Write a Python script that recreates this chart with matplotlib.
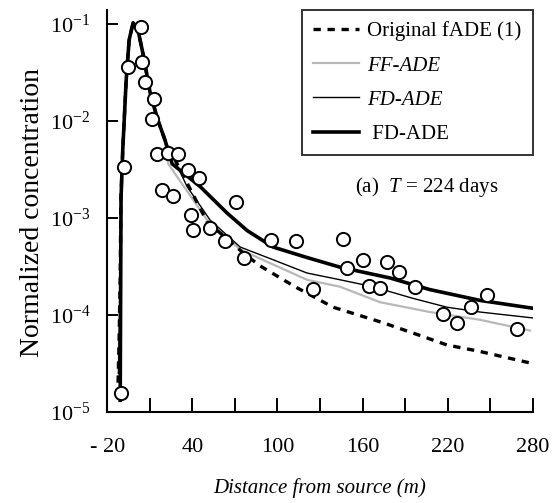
import matplotlib
matplotlib.use("Agg")
import matplotlib.pyplot as plt
from matplotlib.ticker import NullLocator

plt.rcParams['font.family'] = ['Liberation Serif', 'DejaVu Serif']
plt.rcParams['mathtext.fontset'] = 'custom'
plt.rcParams['mathtext.rm'] = 'Liberation Serif'
plt.rcParams['mathtext.it'] = 'Liberation Serif:italic'

# ---- data ----
obs_x = [-10.1, -8.0, -5.2, 3.9, 4.6, 6.8, 13.1, 11.7, 15.2, 23.0, 30.0, 37.0, 44.8,
         18.7, 26.5, 39.2, 40.6, 52.5, 63.1, 70.8, 76.5, 95.5, 113.1, 125.1, 146.2,
         149.0, 160.3, 164.5, 172.3, 177.2, 185.6, 196.9, 216.6, 226.5, 236.3, 247.6, 268.7]
obs_c = [1.58e-5, 3.3e-3, 0.0355, 0.092, 0.040, 0.025, 0.0167, 0.0104, 4.5e-3, 4.6e-3,
         4.5e-3, 3.1e-3, 2.6e-3, 1.93e-3, 1.67e-3, 1.07e-3, 7.5e-4, 7.85e-4, 5.8e-4,
         1.46e-3, 3.85e-4, 5.9e-4, 5.8e-4, 1.85e-4, 6.05e-4, 3.04e-4, 3.67e-4, 1.99e-4,
         1.89e-4, 3.5e-4, 2.77e-4, 1.94e-4, 1.02e-4, 8.3e-5, 1.2e-4, 1.6e-4, 7.2e-5]

orig_x = [-12.3, -11.5, -10.8, -10.3, -9.0, -6.6, -4.5, -1.7, 1.8, 5.4, 10.3, 15.2, 20.8,
          50.4, 77.2, 87.7, 112.4, 139.2, 174.4, 195.5, 219.4, 242.7, 277.9]
orig_c = [2.0e-5, 6.3e-5, 2.5e-4, 1.6e-3, 5.0e-3, 0.026, 0.068, 0.102, 0.085, 0.048,
          0.0195, 0.0107, 6.3e-3, 9.1e-4, 4.2e-4, 3.2e-4, 1.95e-4, 1.2e-4, 8.3e-5,
          6.5e-5, 4.9e-5, 4.2e-5, 3.2e-5]

ff_x = [-12.0, -11.5, -10.8, -10.3, -9.0, -6.6, -4.5, -1.7, 1.8, 5.4, 10.3, 15.2, 20.8,
        23.0, 50.4, 73.7, 120.8, 144.1, 172.3, 207.5, 242.7, 277.9]
ff_c = [2.5e-5, 6.3e-5, 2.5e-4, 1.6e-3, 5.0e-3, 0.026, 0.068, 0.102, 0.085, 0.048,
        0.0195, 0.0107, 6.3e-3, 3.6e-3, 9.5e-4, 4.7e-4, 2.3e-4, 1.95e-4, 1.35e-4,
        1.07e-4, 8.9e-5, 6.9e-5]

fd_x = [-12.0, -11.5, -10.8, -10.3, -9.0, -6.6, -4.5, -1.7, 1.8, 5.4, 10.3, 15.2, 20.8,
        36.3, 52.5, 73.7, 96.9, 120.8, 144.1, 167.3, 195.5, 219.4, 242.7, 280.0]
fd_c = [2.5e-5, 6.3e-5, 2.5e-4, 1.6e-3, 5.0e-3, 0.026, 0.068, 0.102, 0.085, 0.048,
        0.0195, 0.0107, 6.3e-3, 2.1e-3, 9.5e-4, 5.0e-4, 3.7e-4, 2.7e-4, 2.3e-4,
        1.95e-4, 1.48e-4, 1.2e-4, 1.07e-4, 9.3e-5]

fdb_x = [-10.8, -10.5, -10.2, -9.0, -6.6, -4.5, -1.7, 1.8, 5.4, 10.3, 15.2, 20.8, 25.8,
         45.5, 64.5, 78.6, 96.9, 120.8, 144.1, 179.3, 207.5, 242.7, 280.0]
fdb_c = [1.32e-5, 1.4e-4, 1.6e-3, 5.0e-3, 0.026, 0.068, 0.102, 0.085, 0.048, 0.0195,
         0.0107, 6.3e-3, 3.6e-3, 2.1e-3, 1.12e-3, 7.4e-4, 5.0e-4, 3.9e-4, 3.1e-4,
         2.4e-4, 1.82e-4, 1.41e-4, 1.17e-4]

x_major = [-20, 40, 100, 160, 220, 280]
x_labels = ['- 20', '40', '100', '160', '220', '280']
x_minor = [10, 70, 130, 190, 250]
y_ticks = [1e-5, 1e-4, 1e-3, 1e-2, 1e-1]
y_labels = ['$10^{-5}$', '$10^{-4}$', '$10^{-3}$', '$10^{-2}$', '$10^{-1}$']

legend_labels = ['Original fADE (1)', 'FF-ADE', 'FD-ADE', ' FD-ADE']

# ---- figure ----
fig = plt.figure(figsize=(5.58, 5.03), dpi=100)
ax = fig.add_axes([0.192, 0.181, 0.763, 0.799])
ax.set_yscale('log')

l1, = ax.plot(orig_x, orig_c, color='black', lw=2.4, linestyle=(0, (2.2, 2.0)),
              label=legend_labels[0], zorder=3)
l2, = ax.plot(ff_x, ff_c, color='#b8b8b8', lw=1.6, label=legend_labels[1], zorder=2)
l3, = ax.plot(fd_x, fd_c, color='black', lw=1.0, label=legend_labels[2], zorder=3)
l4, = ax.plot(fdb_x, fdb_c, color='black', lw=2.6, label=legend_labels[3], zorder=3)
ax.plot(obs_x, obs_c, linestyle='none', marker='o', markersize=9.5,
        markerfacecolor='white', markeredgecolor='black', markeredgewidth=1.4, zorder=5)

ax.set_xlim(-20, 280)
ax.set_ylim(1e-5, 10 ** -0.86)

ax.set_xticks(x_major)
ax.set_xticklabels(x_labels)
ax.set_xticks(x_minor, minor=True)
ax.set_yticks(y_ticks)
ax.set_yticklabels(y_labels)
ax.yaxis.set_minor_locator(NullLocator())

ax.tick_params(axis='x', which='major', direction='in', length=10, width=1.4,
               labelsize=16, pad=19, color='black')
ax.tick_params(axis='x', which='minor', direction='in', length=10, width=1.4,
               color='black')
ax.tick_params(axis='y', which='major', direction='in', length=8, width=1.4,
               labelsize=16, pad=12, color='black')

for s in ['top', 'right']:
    ax.spines[s].set_visible(False)
for s in ['left', 'bottom']:
    ax.spines[s].set_linewidth(1.5)

ax.set_xlabel('Distance from source (m)', fontsize=15, style='italic')
ax.xaxis.set_label_coords(0.5, -0.165)
ax.set_ylabel('Normalized concentration', fontsize=20)
ax.yaxis.label.set(ha='center', va='center')
ax.yaxis.set_label_coords(-0.175, 0.497)

ax.text(0.751, 0.56, '(a)  $T$ = 224 days', transform=ax.transAxes,
        fontsize=15, ha='center', va='center')

leg = ax.legend(handles=[l1, l2, l3, l4], loc='upper right', bbox_to_anchor=(1.0, 1.0),
                fontsize=15, frameon=True, fancybox=False, edgecolor='black',
                borderaxespad=0.0, handlelength=2.2, labelspacing=0.7,
                handletextpad=0.4, borderpad=0.55)
leg.get_frame().set_linewidth(1.4)
texts = leg.get_texts()
texts[1].set_style('italic')
texts[2].set_style('italic')

fig.savefig('out.png', dpi=100)
